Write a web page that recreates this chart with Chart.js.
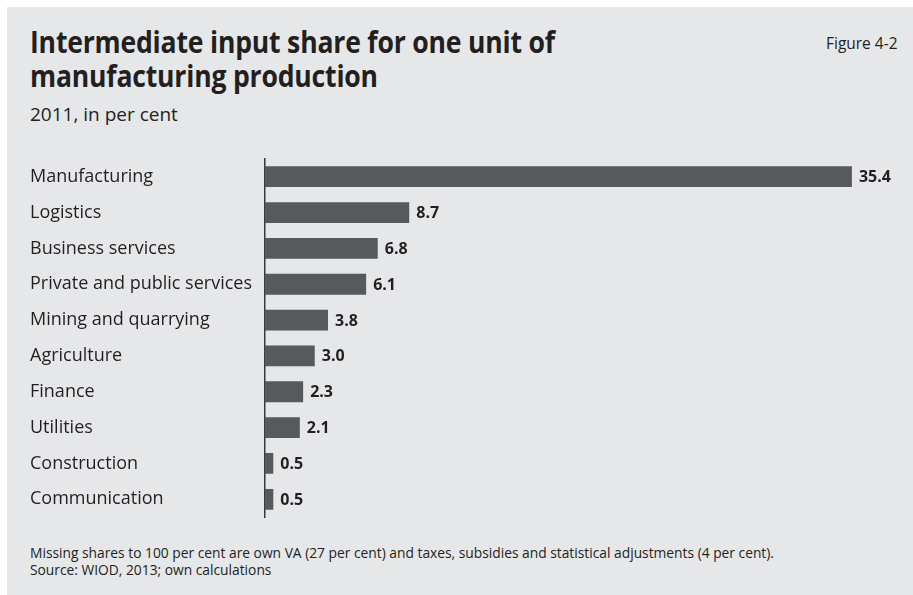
<!DOCTYPE html>
<html>
<head>
<meta charset="utf-8">
<script src="https://cdn.jsdelivr.net/npm/chart.js@4"></script>
<style>
  body { margin: 0; background: #fff; font-family: "Open Sans", sans-serif; color: #231f20; }
  #panel { position: absolute; left: 7px; top: 7px; width: 906px; height: 588px; background: #e6e7e8; overflow: hidden; }
  .narrow { transform-origin: left top; white-space: nowrap; }
  #title { position: absolute; left: 23px; top: 18px; font-size: 29.5px; font-weight: 700; line-height: 34px; letter-spacing: -0.2px; transform: scaleX(0.9); }
  #figno { position: absolute; left: 819px; top: 24px; font-size: 17px; transform: scaleX(0.91); }
  #subtitle { position: absolute; left: 23px; top: 94px; font-size: 19px; }
  #chartBox { position: absolute; left: 23px; top: 141px; width: 883px; height: 380px; }
  #notes { position: absolute; left: 23px; top: 537px; font-size: 14px; line-height: 17px; transform: scaleX(0.985); }
</style>
</head>
<body>
<div id="panel">
  <div id="title" class="narrow">Intermediate input share for one unit of<br>manufacturing production</div>
  <div id="figno" class="narrow">Figure 4-2</div>
  <div id="subtitle">2011, in per cent</div>
  <div id="chartBox"><canvas id="shareChart"></canvas></div>
  <div id="notes" class="narrow">Missing shares to 100 per cent are own VA (27 per cent) and taxes, subsidies and statistical adjustments (4 per cent).<br>Source: WIOD, 2013; own calculations</div>
</div>
<script>
const sectors = ["Manufacturing", "Logistics", "Business services", "Private and public services",
  "Mining and quarrying", "Agriculture", "Finance", "Utilities", "Construction", "Communication"];
const shares = [35.4, 8.7, 6.8, 6.1, 3.8, 3.0, 2.3, 2.1, 0.5, 0.5];

// writes each bar's value just past its end
const valueLabels = {
    id: 'valueLabels',
    afterDatasetsDraw(chart) {
        const ctx = chart.ctx;
        const meta = chart.getDatasetMeta(0);
        ctx.save();
        ctx.font = 'bold 16px "Open Sans", sans-serif';
        ctx.fillStyle = '#231f20';
        ctx.textBaseline = 'middle';
        meta.data.forEach(function (bar, i) {
            ctx.fillText(shares[i].toFixed(1), bar.x + 7, bar.y + 1);
        });
        ctx.restore();
    }
};

function createChart(id, config) {
    const ctx = document.getElementById(id);
    if (!ctx) {
        console.error(`Canvas element with id '${id}' not found`);
        return;
    }
    ctx.chart = new Chart(ctx, config);
}

createChart("shareChart", {
    type: "bar",
    data: {
        labels: sectors,
        datasets: [{
            data: shares,
            backgroundColor: "#58595b",
            borderWidth: 0,
            barPercentage: 0.58,
            categoryPercentage: 1,
        }],
    },
    options: {
        indexAxis: "y",
        responsive: true,
        maintainAspectRatio: false,
        animation: false,
        layout: { padding: { top: 0, right: 18, bottom: 0, left: 0 } },
        plugins: {
            legend: { display: false },
            tooltip: { enabled: false },
        },
        scales: {
            x: { display: false, min: 0, max: 38 },
            y: {
                grid: { display: false },
                border: { display: true, color: "#3a3a3a", width: 1.5 },
                ticks: {
                    color: "#231f20",
                    crossAlign: "far",
                    padding: 0,
                    font: { family: "'Open Sans', sans-serif", size: 18 },
                },
                afterFit: function (scale) { scale.width = 235; },
            },
        },
    },
    plugins: [valueLabels],
});
</script>
</body>
</html>
